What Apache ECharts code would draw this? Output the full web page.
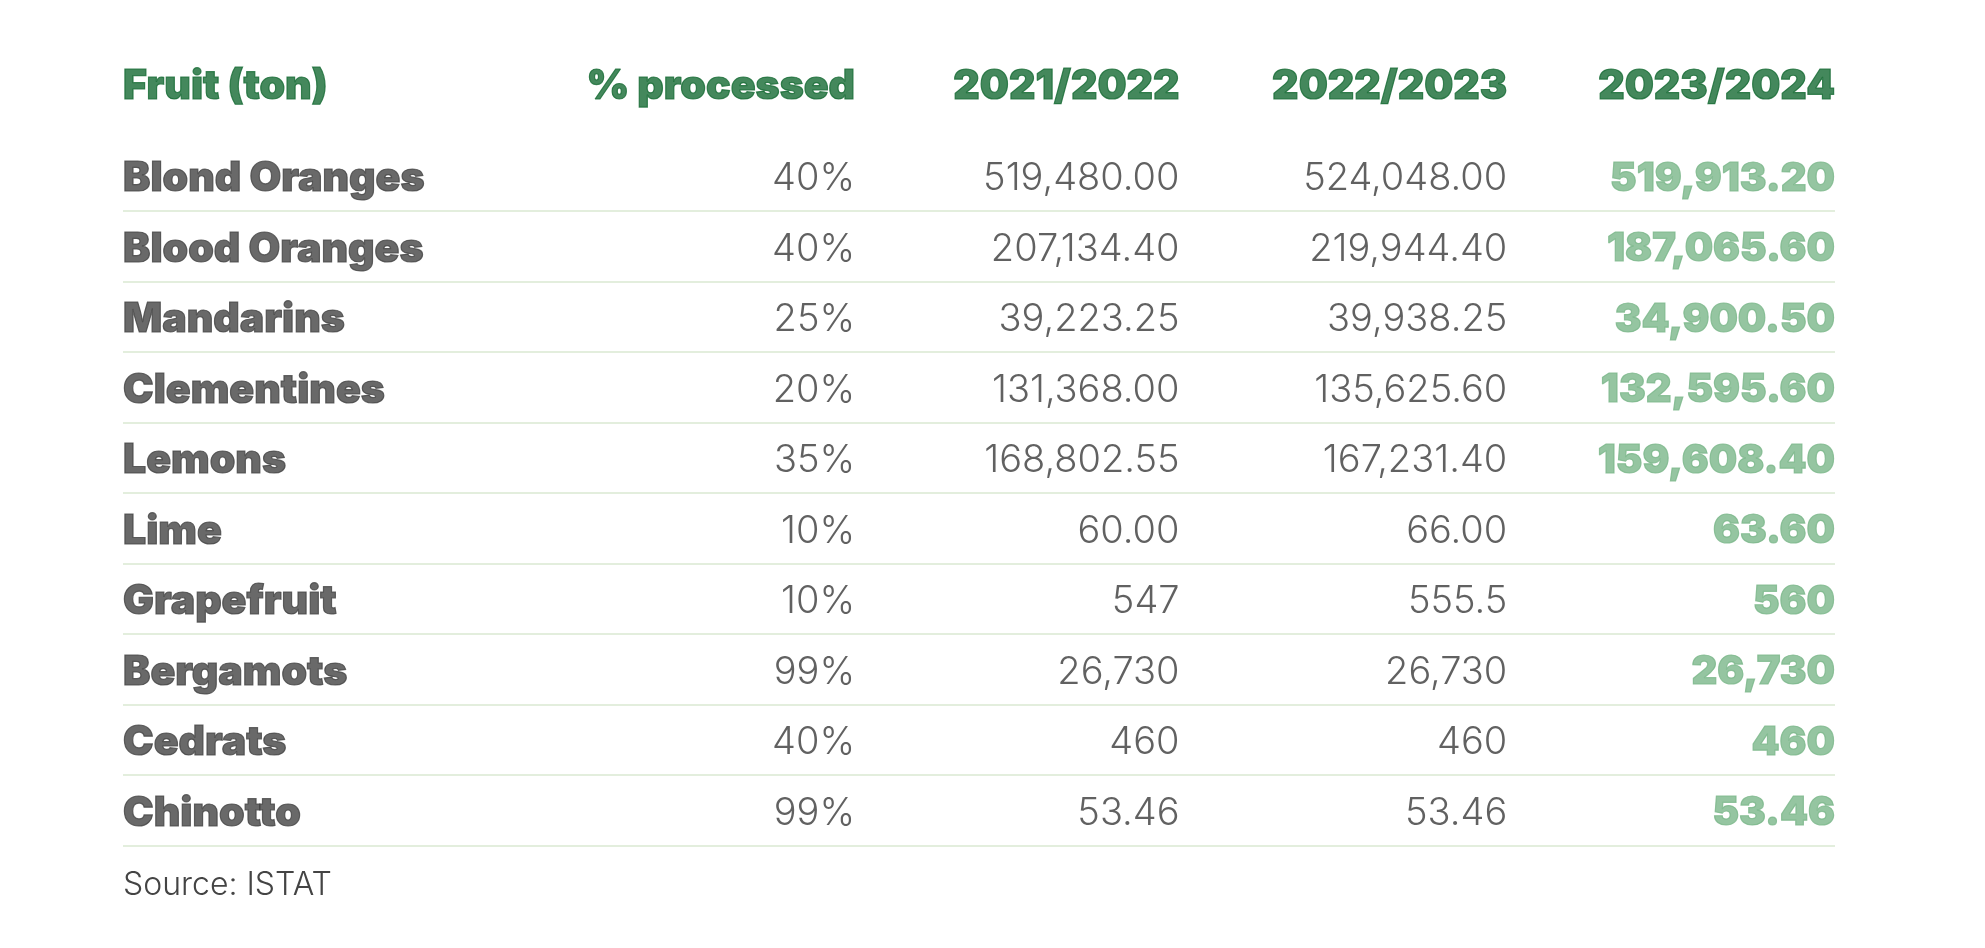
<!DOCTYPE html>
<html>
<head>
    <meta charset="utf-8">
    <title>Citrus processing table</title>
    <script src="https://cdn.jsdelivr.net/npm/echarts@6/dist/echarts.min.js"></script>
</head>
<style>
  html, body { margin: 0; padding: 0; background: #fff; }
</style>
<body>
    <div id="main" style="width: 1985px;height:948px;"></div>
    <script type="text/javascript">
    // table data
    var headers = ['Fruit (ton)', '% processed', '2021/2022', '2022/2023', '2023/2024'];
    var fruits = ['Blond Oranges', 'Blood Oranges', 'Mandarins', 'Clementines', 'Lemons',
        'Lime', 'Grapefruit', 'Bergamots', 'Cedrats', 'Chinotto'];
    var processed = ['40%', '40%', '25%', '20%', '35%', '10%', '10%', '99%', '40%', '99%'];
    var y2122 = ['519,480.00', '207,134.40', '39,223.25', '131,368.00', '168,802.55',
        '60.00', '547', '26,730', '460', '53.46'];
    var y2223 = ['524,048.00', '219,944.40', '39,938.25', '135,625.60', '167,231.40',
        '66.00', '555.5', '26,730', '460', '53.46'];
    var y2324 = ['519,913.20', '187,065.60', '34,900.50', '132,595.60', '159,608.40',
        '63.60', '560', '26,730', '460', '53.46'];
    var source = 'Source: ISTAT';

    // column anchors on the x axis (first column left aligned, others right aligned)
    var colPos = [0, 2.245, 3.24, 4.245, 5.25];

    var myChart = echarts.init(document.getElementById('main'));

    var green = '#156a33';
    var grey = '#444444';
    var lightGreen = '#7bb78a';

    function cells(col, values) {
        return values.map(function (v, i) {
            return [colPos[col], fruits[i], v];
        });
    }

    function cellSeries(col, values, label) {
        return {
            type: 'scatter',
            xAxisIndex: 0,
            yAxisIndex: 0,
            symbolSize: 0,
            silent: true,
            data: cells(col, values),
            label: Object.assign({
                show: true,
                distance: 0,
                offset: [0, 3],
                formatter: function (p) { return p.value[2]; }
            }, label)
        };
    }

    var boldLabel = {
        fontFamily: 'Inter', fontWeight: 900, fontSize: 41, color: grey,
        textBorderColor: grey, textBorderWidth: 1.2
    };
    var lightLabel = {
        fontFamily: 'Inter', fontWeight: 300, fontSize: 38, color: '#3a3a3a', position: 'left'
    };

    option = {
        backgroundColor: '#fff',
        animation: false,
        title: {
            text: source,
            left: 118,
            top: 864,
            textStyle: { fontFamily: 'Inter', fontWeight: 300, fontSize: 32, color: grey }
        },
        grid: [
            { left: 123, right: 150, top: 140.5, bottom: 102.5 },
            { left: 123, right: 150, top: 51, height: 72 }
        ],
        xAxis: [
            { type: 'value', gridIndex: 0, min: 0, max: 5.25, show: false },
            { type: 'value', gridIndex: 1, min: 0, max: 5.25, show: false }
        ],
        yAxis: [
            {
                type: 'category', gridIndex: 0, data: fruits, inverse: true,
                axisLine: { show: false }, axisTick: { show: false }, axisLabel: { show: false },
                splitLine: {
                    show: true,
                    interval: function (index) { return index !== 0; },
                    lineStyle: { color: '#e3eedd', width: 2 }
                }
            },
            { type: 'category', gridIndex: 1, data: ['head'], show: false }
        ],
        series: [
            cellSeries(0, fruits, Object.assign({ position: 'right' }, boldLabel)),
            cellSeries(1, processed, lightLabel),
            cellSeries(2, y2122, lightLabel),
            cellSeries(3, y2223, lightLabel),
            cellSeries(4, y2324, Object.assign({}, boldLabel, {
                position: 'left', fontSize: 40, color: lightGreen, textBorderColor: lightGreen
            })),
            {
                type: 'scatter',
                xAxisIndex: 1,
                yAxisIndex: 1,
                symbolSize: 0,
                silent: true,
                data: headers.map(function (h, i) { return [colPos[i], 'head', h]; }),
                label: {
                    show: true,
                    distance: 0,
                    fontFamily: 'Inter',
                    fontWeight: 900,
                    fontSize: 41,
                    color: green,
                    textBorderColor: green,
                    textBorderWidth: 1.2,
                    position: 'left',
                    formatter: function (p) { return p.value[2]; }
                },
                labelLayout: function (p) {
                    return p.dataIndex === 0 ? { align: 'left' } : { align: 'right' };
                }
            }
        ]
    };
    myChart.setOption(option);
    </script>
</body>
</html>
